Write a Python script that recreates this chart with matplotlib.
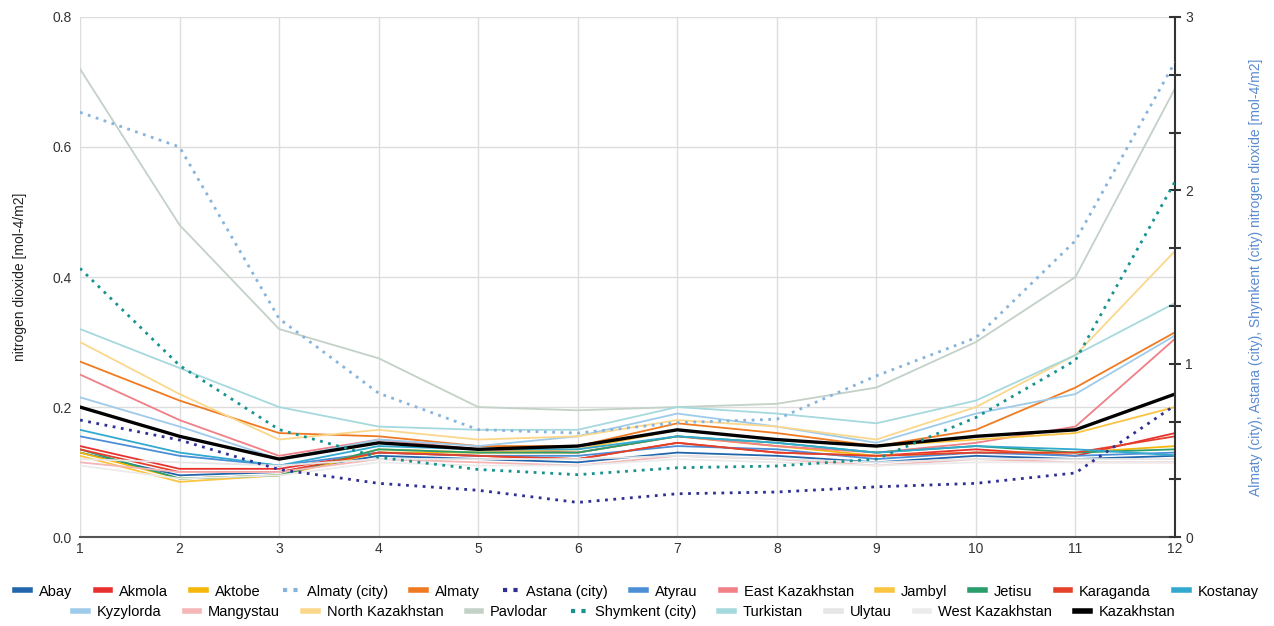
import numpy as np
from matplotlib import pyplot as plt
from matplotlib.lines import Line2D

plt.rcParams['font.family'] = ['Liberation Sans', 'DejaVu Sans']

months = [1, 2, 3, 4, 5, 6, 7, 8, 9, 10, 11, 12]

# regions on the left axis
Abay = [0.13, 0.095, 0.10, 0.125, 0.12, 0.115, 0.13, 0.125, 0.115, 0.125, 0.12, 0.125]
Akmola = [0.14, 0.105, 0.105, 0.13, 0.125, 0.12, 0.145, 0.13, 0.125, 0.135, 0.125, 0.16]
Aktobe = [0.13, 0.09, 0.095, 0.13, 0.13, 0.13, 0.155, 0.14, 0.125, 0.13, 0.13, 0.14]
Almaty = [0.27, 0.21, 0.16, 0.155, 0.14, 0.14, 0.175, 0.16, 0.14, 0.165, 0.23, 0.315]
Atyrau = [0.155, 0.125, 0.11, 0.13, 0.125, 0.125, 0.14, 0.135, 0.12, 0.13, 0.125, 0.13]
East_Kazakhstan = [0.25, 0.18, 0.125, 0.15, 0.135, 0.13, 0.155, 0.14, 0.13, 0.145, 0.17, 0.305]
Jambyl = [0.125, 0.085, 0.095, 0.135, 0.13, 0.135, 0.165, 0.15, 0.14, 0.15, 0.16, 0.2]
Jetisu = [0.135, 0.09, 0.095, 0.135, 0.13, 0.13, 0.155, 0.145, 0.13, 0.14, 0.13, 0.135]
Karaganda = [0.135, 0.10, 0.10, 0.13, 0.125, 0.12, 0.145, 0.13, 0.125, 0.13, 0.13, 0.155]
Kostanay = [0.165, 0.13, 0.11, 0.14, 0.135, 0.135, 0.155, 0.145, 0.13, 0.14, 0.135, 0.126]
Kyzylorda = [0.215, 0.17, 0.12, 0.15, 0.14, 0.155, 0.19, 0.17, 0.145, 0.19, 0.22, 0.31]
Mangystau = [0.115, 0.10, 0.10, 0.12, 0.115, 0.11, 0.125, 0.12, 0.11, 0.12, 0.115, 0.115]
North_Kazakhstan = [0.30, 0.22, 0.15, 0.165, 0.15, 0.155, 0.18, 0.17, 0.15, 0.2, 0.28, 0.44]
Pavlodar = [0.72, 0.48, 0.32, 0.275, 0.2, 0.195, 0.2, 0.205, 0.23, 0.30, 0.40, 0.69]
Turkistan = [0.32, 0.26, 0.2, 0.17, 0.165, 0.165, 0.2, 0.19, 0.175, 0.21, 0.28, 0.36]
Ulytau = [0.12, 0.115, 0.11, 0.12, 0.12, 0.12, 0.125, 0.12, 0.115, 0.12, 0.12, 0.12]
West_Kazakhstan = [0.11, 0.09, 0.095, 0.115, 0.11, 0.11, 0.12, 0.115, 0.11, 0.115, 0.115, 0.115]
Kazakhstan = [0.20, 0.155, 0.12, 0.145, 0.135, 0.14, 0.165, 0.15, 0.14, 0.155, 0.165, 0.22]

# cities on the right axis
Almaty_city = [2.45, 2.25, 1.26, 0.83, 0.62, 0.60, 0.66, 0.68, 0.93, 1.15, 1.71, 2.74]
Astana_city = [0.675, 0.56, 0.39, 0.31, 0.27, 0.20, 0.25, 0.26, 0.29, 0.31, 0.37, 0.76]
Shymkent_city = [1.55, 0.99, 0.62, 0.46, 0.39, 0.36, 0.40, 0.41, 0.45, 0.69, 1.02, 2.05]

# name, data, colour, right axis?
series = [
    ("Abay", Abay, '#2166ac', False),
    ("Akmola", Akmola, '#e8312f', False),
    ("Aktobe", Aktobe, '#f6b70b', False),
    ("Almaty (city)", Almaty_city, '#86b4dc', True),
    ("Almaty", Almaty, '#f07a21', False),
    ("Astana (city)", Astana_city, '#2e3192', True),
    ("Atyrau", Atyrau, '#4c8fd6', False),
    ("East Kazakhstan", East_Kazakhstan, '#f07f86', False),
    ("Jambyl", Jambyl, '#f9c540', False),
    ("Jetisu", Jetisu, '#2a9d6c', False),
    ("Karaganda", Karaganda, '#e4402a', False),
    ("Kostanay", Kostanay, '#33a9cf', False),
    ("Kyzylorda", Kyzylorda, '#9fcbea', False),
    ("Mangystau", Mangystau, '#f4b6b6', False),
    ("North Kazakhstan", North_Kazakhstan, '#fbd78c', False),
    ("Pavlodar", Pavlodar, '#c3d1c7', False),
    ("Shymkent (city)", Shymkent_city, '#16928f', True),
    ("Turkistan", Turkistan, '#a6d9de', False),
    ("Ulytau", Ulytau, '#e6e6e6', False),
    ("West Kazakhstan", West_Kazakhstan, '#ebebeb', False),
    ("Kazakhstan", Kazakhstan, '#000000', False),
]

fig = plt.figure(figsize=(12.74, 6.26), dpi=100)
ax = fig.add_axes([0.0628, 0.142, 0.8595, 0.831])
ax2 = ax.twinx()

handles = []
for name, vals, col, right in series:
    if right:
        ax2.plot(months, vals, color=col, lw=2, ls=(0, (1, 2)), zorder=3)
        handles.append(Line2D([], [], color=col, lw=3, ls=(0, (1, 1.5))))
    elif name == "Kazakhstan":
        ax.plot(months, vals, color=col, lw=2.4, zorder=5)
        handles.append(Line2D([], [], color=col, lw=4))
    else:
        ax.plot(months, vals, color=col, lw=1.3, zorder=2)
        handles.append(Line2D([], [], color=col, lw=4))

ax.set_xlim(1, 12)
ax.set_ylim(0, 0.8)
ax.set_xticks(months)
ax.set_yticks([0.0, 0.2, 0.4, 0.6, 0.8])
ax.set_yticklabels(["0.0", "0.2", "0.4", "0.6", "0.8"])
ax.grid(True, color='#dddddd', lw=1)
ax.set_axisbelow(True)
ax.tick_params(axis='both', length=0, labelsize=10, colors='#333333')
ax.tick_params(axis='y', pad=6)
for s in ['left', 'top', 'right']:
    ax.spines[s].set_visible(False)
ax.spines['bottom'].set_color('#555555')
ax.spines['bottom'].set_linewidth(1.5)
ax.set_ylabel("nitrogen dioxide [mol-4/m2]", fontsize=10, color='#222222', labelpad=18)

ax2.set_ylim(0, 3)
ax2.set_yticks([0, 1, 2, 3])
ax2.set_yticks(np.arange(0, 3.01, 1 / 3), minor=True)
ax2.tick_params(axis='y', which='major', direction='inout', length=8, width=1.5, labelsize=10, colors='#333333')
ax2.tick_params(axis='y', which='minor', direction='inout', length=8, width=1.5)
ax2.tick_params(axis='y', which='both', color='#333333')
for s in ['left', 'top', 'bottom']:
    ax2.spines[s].set_visible(False)
ax2.spines['right'].set_color('#333333')
ax2.spines['right'].set_linewidth(1.5)
ax2.set_ylabel("Almaty (city), Astana (city), Shymkent (city) nitrogen dioxide [mol-4/m2]",
               fontsize=10, color='#5b8bd0', labelpad=40)

names = [s[0] for s in series]
leg1 = fig.legend(handles[:12], names[:12], loc='center', bbox_to_anchor=(0.5, 0.055), ncol=12,
                  frameon=False, fontsize=10.5, handlelength=1.0, handletextpad=0.6, columnspacing=1.6)
leg2 = fig.legend(handles[12:], names[12:], loc='center', bbox_to_anchor=(0.49, 0.022), ncol=9,
                  frameon=False, fontsize=10.5, handlelength=1.0, handletextpad=0.6, columnspacing=1.6)

plt.savefig("out.png", dpi=100)
